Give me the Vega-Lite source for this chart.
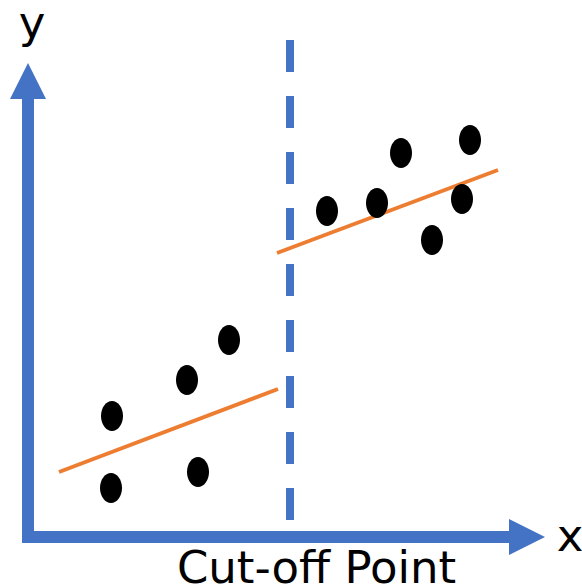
{
  "$schema": "https://vega.github.io/schema/vega-lite/v6.json",
  "width": 582,
  "height": 587,
  "autosize": {"type": "none"},
  "padding": 0,
  "background": "white",
  "config": {"view": {"stroke": null}},
  "datasets": {
    "observations": [
      {"x": 1.68, "y": 2.42},
      {"x": 1.66, "y": 0.98},
      {"x": 3.18, "y": 3.14},
      {"x": 4.02, "y": 3.94},
      {"x": 3.40, "y": 1.30},
      {"x": 5.98, "y": 6.52},
      {"x": 6.98, "y": 6.68},
      {"x": 7.46, "y": 7.68},
      {"x": 8.08, "y": 5.94},
      {"x": 8.68, "y": 6.76},
      {"x": 8.84, "y": 7.94}
    ],
    "fits": [
      {"side": "below", "x": 0.62, "y": 1.30, "x2": 5.00, "y2": 2.96},
      {"side": "above", "x": 4.98, "y": 5.68, "x2": 9.40, "y2": 7.34}
    ],
    "axesLines": [
      {"axis": "y", "x": 0, "y": -0.10, "x2": 0, "y2": 8.76},
      {"axis": "x", "x": -0.12, "y": 0, "x2": 9.62, "y2": 0}
    ],
    "cutoff": [
      {"x": 5.24, "y": 9.94, "y2": 0.34}
    ],
    "arrowUp": [{"x": 0, "y": 9.12}],
    "arrowRight": [{"x": 9.98, "y": 0}],
    "labels": [
      {"x": 0.08, "y": 9.98, "label": "y"},
      {"x": 10.84, "y": -0.28, "label": "x"},
      {"x": 5.77, "y": -0.92, "label": "Cut-off Point"}
    ]
  },
  "layer": [
    {
      "data": {"name": "axesLines"},
      "mark": {"type": "rule", "color": "#4472C4", "strokeWidth": 12, "strokeCap": "butt"},
      "encoding": {
        "x": {"field": "x", "type": "quantitative", "scale": {"domain": [-0.56, 11.08], "nice": false, "zero": false}, "axis": null},
        "y": {"field": "y", "type": "quantitative", "scale": {"domain": [-1.0, 10.74], "nice": false, "zero": false}, "axis": null},
        "x2": {"field": "x2"},
        "y2": {"field": "y2"}
      }
    },
    {
      "data": {"name": "arrowUp"},
      "mark": {"type": "point", "shape": "M0,-1L1,1L-1,1Z", "size": 1296, "filled": true, "opacity": 1, "color": "#4472C4", "strokeWidth": 0},
      "encoding": {
        "x": {"field": "x", "type": "quantitative", "axis": null},
        "y": {"field": "y", "type": "quantitative", "axis": null}
      }
    },
    {
      "data": {"name": "arrowRight"},
      "mark": {"type": "point", "shape": "M1,0L-1,-1L-1,1Z", "size": 1296, "filled": true, "opacity": 1, "color": "#4472C4", "strokeWidth": 0},
      "encoding": {
        "x": {"field": "x", "type": "quantitative", "axis": null},
        "y": {"field": "y", "type": "quantitative", "axis": null}
      }
    },
    {
      "data": {"name": "cutoff"},
      "mark": {"type": "rule", "color": "#4472C4", "strokeWidth": 8, "strokeCap": "butt", "strokeDash": [32, 24]},
      "encoding": {
        "x": {"field": "x", "type": "quantitative", "axis": null},
        "y": {"field": "y", "type": "quantitative", "axis": null},
        "y2": {"field": "y2"}
      }
    },
    {
      "data": {"name": "fits"},
      "mark": {"type": "rule", "color": "#ED7D31", "strokeWidth": 4, "strokeCap": "butt"},
      "encoding": {
        "x": {"field": "x", "type": "quantitative", "axis": null},
        "y": {"field": "y", "type": "quantitative", "axis": null},
        "x2": {"field": "x2"},
        "y2": {"field": "y2"}
      }
    },
    {
      "data": {"name": "observations"},
      "mark": {"type": "point", "shape": "M0,-1.36A1,1.36,0,1,1,0,1.36A1,1.36,0,1,1,0,-1.36Z", "size": 484, "filled": true, "opacity": 1, "color": "black", "strokeWidth": 0},
      "encoding": {
        "x": {"field": "x", "type": "quantitative", "axis": null},
        "y": {"field": "y", "type": "quantitative", "axis": null}
      }
    },
    {
      "data": {"name": "labels"},
      "mark": {"type": "text", "font": "DejaVu Sans", "fontSize": 45, "color": "black", "align": "center", "baseline": "alphabetic"},
      "encoding": {
        "x": {"field": "x", "type": "quantitative", "axis": null},
        "y": {"field": "y", "type": "quantitative", "axis": null},
        "text": {"field": "label"}
      }
    }
  ]
}
